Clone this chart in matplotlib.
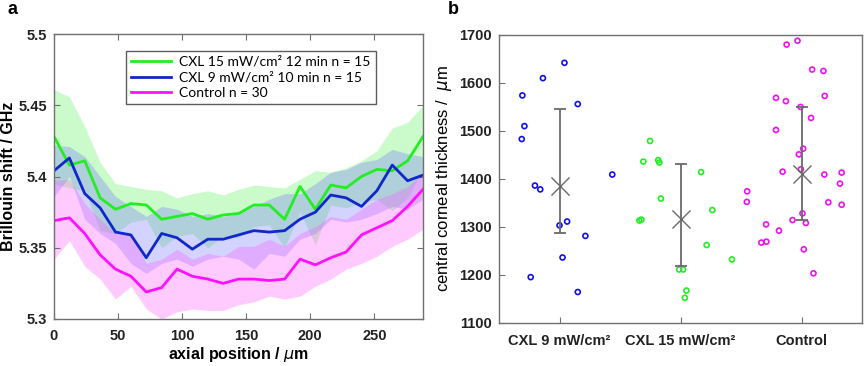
"""Brillouin shift depth profiles (a) and central corneal thickness per group (b)."""
import matplotlib
matplotlib.use("Agg")
import matplotlib.pyplot as plt
import numpy as np

plt.rcParams["font.family"] = ["Liberation Sans", "DejaVu Sans"]

# ---- panel a: depth profiles -------------------------------------------------
depth = [0, 12, 24, 36, 48, 60, 72, 84, 96, 108, 120, 132, 144,
         156, 168, 180, 192, 204, 216, 228, 240, 252, 264, 276, 288]

cxl15_mean = [5.428, 5.408, 5.411, 5.385, 5.377, 5.381, 5.380, 5.370, 5.372,
              5.374, 5.370, 5.373, 5.374, 5.380, 5.380, 5.370, 5.393, 5.377,
              5.394, 5.392, 5.400, 5.405, 5.404, 5.411, 5.428]
cxl15_hi = [5.461, 5.456, 5.435, 5.410, 5.395, 5.393, 5.391, 5.390, 5.385,
            5.388, 5.390, 5.387, 5.391, 5.394, 5.393, 5.392, 5.398, 5.404,
            5.403, 5.406, 5.411, 5.418, 5.434, 5.438, 5.450]
cxl15_lo = [5.395, 5.392, 5.390, 5.362, 5.360, 5.368, 5.370, 5.350, 5.358,
            5.360, 5.350, 5.358, 5.357, 5.365, 5.366, 5.350, 5.375, 5.352,
            5.380, 5.378, 5.382, 5.384, 5.376, 5.385, 5.405]

cxl9_mean = [5.404, 5.413, 5.388, 5.378, 5.361, 5.359, 5.343, 5.360, 5.357,
             5.349, 5.356, 5.356, 5.359, 5.362, 5.361, 5.362, 5.370, 5.375,
             5.387, 5.385, 5.379, 5.390, 5.408, 5.397, 5.401]
cxl9_hi = [5.422, 5.421, 5.414, 5.400, 5.386, 5.379, 5.372, 5.379, 5.377,
           5.372, 5.374, 5.372, 5.374, 5.379, 5.384, 5.388, 5.388, 5.395,
           5.403, 5.405, 5.410, 5.412, 5.419, 5.416, 5.414]
cxl9_lo = [5.386, 5.400, 5.370, 5.360, 5.353, 5.339, 5.332, 5.339, 5.342,
           5.337, 5.342, 5.344, 5.342, 5.335, 5.346, 5.344, 5.356, 5.360,
           5.370, 5.368, 5.370, 5.374, 5.379, 5.377, 5.384]

ctrl_mean = [5.369, 5.371, 5.360, 5.345, 5.335, 5.330, 5.319, 5.322, 5.335,
             5.330, 5.328, 5.325, 5.328, 5.328, 5.327, 5.328, 5.342, 5.338,
             5.343, 5.347, 5.359, 5.364, 5.369, 5.379, 5.391]
ctrl_hi = [5.397, 5.398, 5.381, 5.370, 5.360, 5.360, 5.339, 5.342, 5.349,
           5.342, 5.346, 5.344, 5.351, 5.351, 5.356, 5.351, 5.360, 5.365,
           5.372, 5.370, 5.377, 5.384, 5.388, 5.393, 5.403]
ctrl_lo = [5.342, 5.355, 5.337, 5.328, 5.314, 5.323, 5.307, 5.300, 5.305,
           5.307, 5.306, 5.306, 5.310, 5.312, 5.316, 5.314, 5.316, 5.323,
           5.328, 5.335, 5.339, 5.344, 5.351, 5.356, 5.363]

# ---- panel b: thickness per eye ----------------------------------------------
groups = ["CXL 9 mW/cm\u00b2", "CXL 15 mW/cm\u00b2", "Control"]

cxl9_x = [0.693, 0.710, 0.688, 0.863, 1.041, 1.151, 0.797, 0.841, 1.000,
          1.063, 1.214, 1.025, 0.762, 1.151, 1.436]
cxl9_t = [1574, 1510, 1483, 1610, 1642, 1556, 1386, 1378, 1303,
          1311, 1281, 1236, 1195, 1164, 1409]

cxl15_x = [1.748, 1.693, 1.816, 1.825, 1.838, 1.660, 1.677, 2.170, 2.263,
           2.216, 2.425, 1.989, 2.022, 2.049, 2.036]
cxl15_t = [1479, 1436, 1439, 1434, 1359, 1313, 1315, 1414, 1335,
           1262, 1232, 1211, 1211, 1167, 1152]

ctrl_x = [2.967, 2.877, 3.088, 3.181, 2.789, 2.871, 3.192, 2.992, 3.079,
          2.789, 3.014, 2.978, 2.995, 2.844, 3.189, 3.332, 3.318, 2.551,
          2.548, 3.222, 3.332, 3.008, 2.926, 3.036, 2.707, 2.814, 2.668,
          2.710, 3.019, 3.099]
ctrl_t = [1688, 1680, 1628, 1625, 1569, 1562, 1573, 1550, 1527, 1502,
          1463, 1451, 1420, 1415, 1409, 1413, 1390, 1374, 1352, 1351,
          1346, 1328, 1314, 1308, 1305, 1292, 1267, 1269, 1253, 1203]

group_mean = [1386, 1316, 1411]
group_hi = [1545, 1430, 1550]
group_lo = [1288, 1218, 1314]

GREEN, BLUE, MAGENTA = "#22ee22", "#1028c8", "#ff10ff"
FRAME = "#707070"


def style(ax):
    for s in ax.spines.values():
        s.set_color(FRAME)
        s.set_linewidth(1.0)
    ax.tick_params(direction="in", length=4, width=0.8, color=FRAME,
                   top=True, right=True, labelsize=10.5, pad=5)
    for lab in ax.get_xticklabels() + ax.get_yticklabels():
        lab.set_fontweight("bold")
        lab.set_color("#222222")


fig = plt.figure(figsize=(8.65, 3.66), dpi=100)
W, H = 865, 366
axa = fig.add_axes([54 / W, 1 - 319 / H, (423 - 54) / W, (319 - 34) / H])
axb = fig.add_axes([499 / W, 1 - 322.7 / H, (862 - 499) / W, (322.7 - 35) / H])

# panel a
axa.fill_between(depth, cxl15_lo, cxl15_hi, color="#33ee33", alpha=0.25, lw=0)
axa.fill_between(depth, cxl9_lo, cxl9_hi, color="#6f6fff", alpha=0.3, lw=0)
axa.fill_between(depth, ctrl_lo, ctrl_hi, color="#ff55ff", alpha=0.3, lw=0)
axa.plot(depth, cxl15_mean, color=GREEN, lw=2, label="CXL 15 mW/cm\u00b2 12 min n = 15")
axa.plot(depth, cxl9_mean, color=BLUE, lw=2, label="CXL 9 mW/cm\u00b2 10 min n = 15")
axa.plot(depth, ctrl_mean, color=MAGENTA, lw=2, label="Control n = 30")
axa.set_xlim(0, 288)
axa.set_ylim(5.3, 5.5)
axa.set_xticks([0, 50, 100, 150, 200, 250])
axa.set_yticks([5.3, 5.35, 5.4, 5.45, 5.5])
axa.set_yticklabels(["5.3", "5.35", "5.4", "5.45", "5.5"])
axa.set_xlabel("axial position / $\\mu$m", fontsize=11.5, fontweight="bold", labelpad=2)
axa.set_ylabel("Brillouin shift / GHz", fontsize=11.5, fontweight="bold", labelpad=2)
style(axa)
axa.tick_params(axis="x", pad=7)
leg = axa.legend(loc="upper left", bbox_to_anchor=(0.195, 0.94), frameon=True,
                 fancybox=False, edgecolor="#333333", handlelength=2.9,
                 borderpad=0.35, labelspacing=0.25, handletextpad=0.6,
                 borderaxespad=0.0,
                 prop={"family": ["Lato", "DejaVu Sans"], "size": 10})
leg.get_frame().set_linewidth(1.0)

# panel b
axb.scatter(cxl9_x, cxl9_t, s=13, facecolors="none", edgecolors="#1010ee", lw=1.2)
axb.scatter(cxl15_x, cxl15_t, s=13, facecolors="none", edgecolors="#22ee22", lw=1.2)
axb.scatter(ctrl_x, ctrl_t, s=13, facecolors="none", edgecolors="#f010f0", lw=1.2)
pos = np.arange(1, len(groups) + 1)
mean = np.array(group_mean)
axb.errorbar(pos, mean, yerr=[mean - np.array(group_lo), np.array(group_hi) - mean],
             fmt="none", ecolor="#6a6a6a", elinewidth=1.3, capsize=4.5, capthick=1.3)
axb.scatter(pos, mean, marker="x", s=170, color="#6a6a6a", lw=1.0, zorder=3)
axb.set_xlim(0.5, 3.5)
axb.set_ylim(1100, 1700)
axb.set_xticks(pos)
axb.set_xticklabels(groups)
axb.set_yticks(range(1100, 1701, 100))
axb.set_ylabel("central corneal thickness /  $\\mu$m", fontsize=12, labelpad=4)
style(axb)
axb.tick_params(axis="x", top=False, pad=8)
axb.tick_params(axis="y", right=False)

fig.text(8 / W, 1 - 10 / H, "a", fontsize=13, fontweight="bold", va="center")
fig.text(448 / W, 1 - 10 / H, "b", fontsize=13, fontweight="bold", va="center")

fig.savefig("out.png", dpi=100)
